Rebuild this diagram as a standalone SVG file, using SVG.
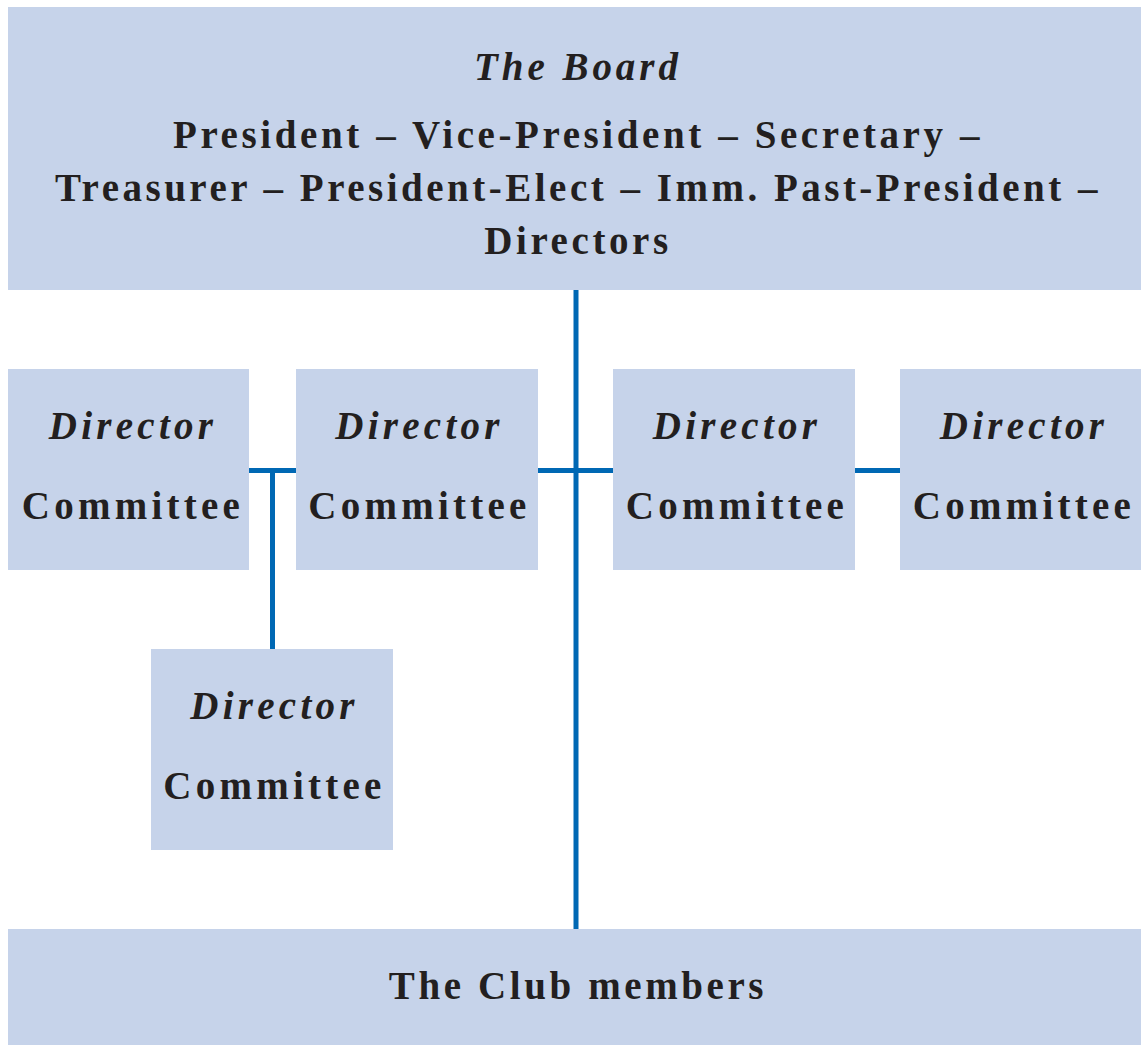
<svg xmlns="http://www.w3.org/2000/svg" width="1141" height="1045" viewBox="0 0 1141 1045">
  <style>
    .box { fill: #C6D3EA; }
    .lbl { font-family: "Liberation Serif", "Times New Roman", serif; font-weight: bold; font-size: 39px; fill: #231F20; text-anchor: middle; letter-spacing: 3.6px; }
    .it { font-style: italic; }
    .node { letter-spacing: 4.25px; }
    .wire { stroke: #0068B4; stroke-width: 5; fill: none; }
  </style>
  <rect width="1141" height="1045" fill="#FFFFFF"/>

  <!-- connectors -->
  <g id="connectors">
    <line class="wire" x1="576" y1="289" x2="576" y2="930"/>
    <line class="wire" x1="537" y1="470.5" x2="614" y2="470.5"/>
    <line class="wire" x1="854" y1="470.5" x2="901" y2="470.5"/>
    <line class="wire" x1="248" y1="470.5" x2="297" y2="470.5"/>
    <line class="wire" x1="272.5" y1="470" x2="272.5" y2="650"/>
  </g>

  <!-- board -->
  <g id="board">
    <rect class="box" x="8" y="7" width="1133" height="283"/>
    <text class="lbl it" x="578" y="80" style="letter-spacing:3.95px">The Board</text>
    <text class="lbl" x="578" y="148">President – Vice-President – Secretary –</text>
    <text class="lbl" x="578" y="201" style="letter-spacing:3.5px">Treasurer – President-Elect – Imm. Past-President –</text>
    <text class="lbl" x="578" y="254">Directors</text>
  </g>

  <g id="director1">
    <rect class="box" x="8" y="369" width="241" height="201"/>
    <text class="lbl node it" x="133" y="439">Director</text>
    <text class="lbl node" x="133" y="519">Committee</text>
  </g>

  <g id="director2">
    <rect class="box" x="296" y="369" width="242" height="201"/>
    <text class="lbl node it" x="419.5" y="439">Director</text>
    <text class="lbl node" x="419.5" y="519">Committee</text>
  </g>

  <g id="director3">
    <rect class="box" x="613" y="369" width="242" height="201"/>
    <text class="lbl node it" x="737" y="439">Director</text>
    <text class="lbl node" x="737" y="519">Committee</text>
  </g>

  <g id="director4">
    <rect class="box" x="900" y="369" width="241" height="201"/>
    <text class="lbl node it" x="1024" y="439">Director</text>
    <text class="lbl node" x="1024" y="519">Committee</text>
  </g>

  <g id="director5">
    <rect class="box" x="151" y="649" width="242" height="201"/>
    <text class="lbl node it" x="274.5" y="719">Director</text>
    <text class="lbl node" x="274.5" y="799">Committee</text>
  </g>

  <g id="members">
    <rect class="box" x="8" y="929" width="1133" height="116"/>
    <text class="lbl" x="578" y="999">The Club members</text>
  </g>
</svg>
